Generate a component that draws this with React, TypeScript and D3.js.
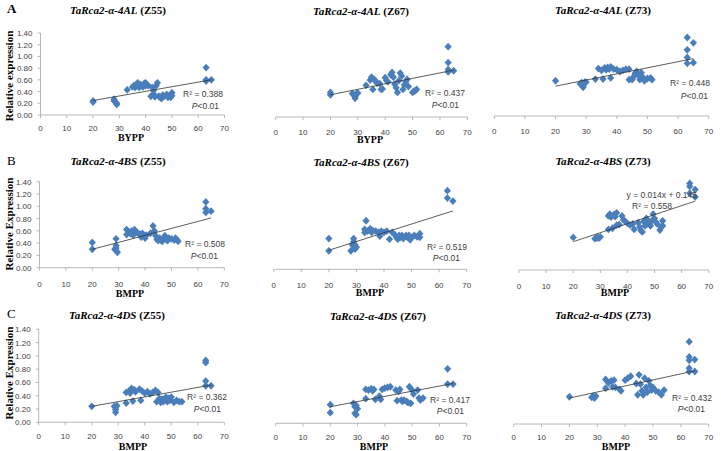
import React from "react";
import * as d3 from "d3";

type Pt = [number, number];

// ---------- DATA ----------
const xTicks = [0, 10, 20, 30, 40, 50, 60, 70];
const yTicks = [0, 0.2, 0.4, 0.6, 0.8, 1.0, 1.2, 1.4];

const genes = ["TaRca2-α-4AL", "TaRca2-α-4BS", "TaRca2-α-4DS"];
const stages = ["(Z55)", "(Z67)", "(Z73)"];
const rowLetters = ["A", "B", "C"];
const yTitles = ["Relative expression", "Relative Expression", "Relative Expression"];
const xTitles = ["BYPP", "BMPP", "BMPP"];

const r2Labels = ["0.388", "0.437", "0.448", "0.508", "0.519", "0.558", "0.362", "0.417", "0.432"];
const trendSlope = [0.00787, 0.00933, 0.01044, 0.01133, 0.01422, 0.01467, 0.00711, 0.00778, 0.00911];
const trendIntercept = [0.089, 0.193, 0.301, 0.073, 0.026, 0.167, 0.098, 0.094, 0.208];
const equationB73 = "y = 0.014x + 0.145";

const ptsA55: Pt[] = [[20,0.24],[20,0.22],[28,0.27],[28,0.24],[28.5,0.22],[29,0.18],[29,0.2],[33,0.43],[35,0.48],[35.5,0.5],[36,0.47],[36.5,0.52],[37,0.55],[37,0.5],[37.5,0.47],[38,0.52],[38.5,0.5],[39,0.48],[39.5,0.54],[40,0.55],[40,0.5],[40.5,0.52],[41,0.5],[42,0.32],[42.5,0.47],[43,0.42],[43,0.36],[43.5,0.31],[44,0.5],[44.5,0.55],[45,0.32],[45.5,0.3],[46,0.28],[46.5,0.34],[47,0.32],[48,0.35],[48.5,0.3],[49,0.33],[49.5,0.3],[50,0.38],[50,0.33],[63,0.81],[63,0.6],[63,0.58],[65,0.6]];
const ptsA67: Pt[] = [[20,0.42],[20,0.38],[28,0.40],[28.5,0.38],[29,0.35],[29,0.32],[29.5,0.40],[30,0.41],[33,0.54],[34.5,0.63],[35,0.68],[35.5,0.47],[36,0.64],[36.5,0.61],[37,0.58],[38,0.57],[38.5,0.47],[39,0.48],[40,0.67],[40.5,0.62],[41,0.60],[42,0.72],[42.5,0.76],[43,0.68],[43.5,0.56],[44,0.50],[44.5,0.42],[45,0.62],[45.5,0.75],[46,0.70],[46.5,0.47],[47,0.55],[47.5,0.60],[48,0.64],[48.5,0.52],[50,0.42],[50.5,0.44],[51,0.45],[51.5,0.47],[63,1.20],[63,0.93],[63,0.81],[63,0.77],[65,0.79]];
const ptsA73: Pt[] = [[20,0.60],[28,0.55],[28.5,0.57],[29,0.49],[29,0.52],[29.5,0.58],[30,0.58],[33,0.63],[34,0.81],[35,0.78],[35.5,0.63],[36,0.82],[36.5,0.79],[37,0.83],[37.5,0.80],[38,0.84],[38,0.65],[39,0.80],[40,0.79],[41,0.76],[42,0.78],[43,0.80],[44,0.62],[44,0.80],[45,0.62],[45.5,0.67],[46,0.73],[46.5,0.76],[47,0.70],[47.5,0.62],[48,0.74],[48.5,0.66],[49,0.60],[50,0.64],[51,0.65],[51.5,0.62],[63,1.34],[63,1.13],[63,1.00],[63,0.90],[65,1.25],[65,0.91]];
const ptsB55: Pt[] = [[20,0.41],[20,0.30],[28.5,0.30],[29,0.47],[29,0.36],[29,0.32],[29,0.28],[29.5,0.25],[33,0.62],[33,0.54],[34,0.58],[34.5,0.55],[35,0.60],[35.5,0.53],[36,0.62],[36.5,0.58],[37,0.57],[38,0.55],[38.5,0.50],[39,0.56],[40,0.48],[40.5,0.53],[42,0.56],[43,0.68],[43.5,0.60],[44,0.52],[44.5,0.46],[45,0.44],[45.5,0.48],[46,0.45],[46.5,0.43],[47,0.47],[47.5,0.52],[48,0.46],[48.5,0.44],[49,0.48],[50,0.47],[51,0.45],[51.5,0.48],[52,0.46],[52.5,0.43],[63,1.07],[63,0.96],[63,0.90],[65,0.92]];
const ptsB67: Pt[] = [[20,0.50],[20,0.30],[28,0.30],[28.5,0.40],[29,0.50],[29,0.45],[29.5,0.40],[29.5,0.33],[30,0.36],[33,0.60],[33,0.65],[33.5,0.79],[34,0.62],[35,0.66],[35.5,0.60],[36,0.63],[37,0.62],[38,0.60],[38.5,0.54],[39,0.62],[40,0.60],[41,0.62],[42,0.49],[43,0.60],[44,0.56],[44.5,0.52],[45,0.49],[45.5,0.55],[46,0.52],[46.5,0.55],[47,0.50],[48,0.55],[48.5,0.52],[49,0.55],[49.5,0.48],[50,0.52],[51,0.55],[52,0.53],[53,0.58],[53,0.52],[63,1.28],[63,1.16],[65,1.11]];
const ptsB73: Pt[] = [[20,0.53],[28,0.51],[28.5,0.52],[29,0.53],[29.5,0.52],[30,0.54],[33,0.88],[33,0.66],[33.5,0.91],[34,0.86],[34.5,0.68],[35,0.90],[35.5,0.87],[36,0.93],[36,0.73],[37,0.74],[38,0.88],[38.5,0.82],[39,0.80],[40,0.76],[41,0.73],[42,0.75],[42.5,0.66],[44,0.77],[44.5,0.70],[45,0.64],[45.5,0.62],[46,0.79],[46.5,0.72],[47,0.84],[47.5,0.75],[48,0.78],[48.5,0.72],[49,0.80],[49.5,0.91],[50,0.84],[50.5,0.78],[51,0.75],[52,0.65],[52.5,0.70],[53,0.80],[53,0.72],[63,1.41],[63,1.36],[63,1.25],[65,1.31],[65,1.19]];
const ptsC55: Pt[] = [[20,0.24],[28.5,0.24],[29,0.22],[29,0.19],[29,0.15],[29.5,0.25],[33,0.29],[33,0.45],[34,0.47],[34.5,0.44],[35,0.51],[35.5,0.32],[36,0.49],[36.5,0.46],[38,0.50],[38.5,0.33],[39,0.47],[40,0.44],[41,0.46],[42,0.43],[43,0.45],[44,0.48],[44.5,0.31],[45,0.45],[45.5,0.36],[46,0.30],[46.5,0.35],[47,0.31],[48,0.38],[48.5,0.31],[49,0.36],[49.5,0.33],[50,0.38],[51,0.30],[52,0.33],[53,0.31],[54,0.31],[63,0.93],[63,0.90],[63,0.62],[63,0.55],[65,0.55]];
const ptsC67: Pt[] = [[20,0.28],[20,0.16],[28.5,0.30],[29,0.25],[29,0.15],[29.5,0.13],[29.5,0.27],[30,0.22],[33,0.51],[33,0.37],[34,0.50],[35,0.52],[35.5,0.49],[36,0.51],[36.5,0.36],[38,0.41],[38.5,0.36],[39,0.51],[40,0.53],[41,0.54],[42,0.55],[44,0.50],[44.5,0.34],[45,0.48],[45.5,0.51],[46,0.35],[46.5,0.33],[47,0.35],[48,0.33],[48.5,0.31],[49,0.55],[49.5,0.30],[50,0.50],[50.5,0.44],[52,0.50],[52.5,0.38],[53,0.35],[54,0.38],[63,0.82],[63,0.59],[65,0.59]];
const ptsC73: Pt[] = [[20,0.41],[28,0.40],[28.5,0.42],[29,0.39],[29.5,0.42],[33,0.67],[33,0.54],[34,0.62],[35,0.65],[35.5,0.56],[36,0.66],[36.5,0.55],[38,0.52],[38.5,0.50],[40,0.66],[41,0.69],[42,0.72],[44,0.61],[44.5,0.44],[45,0.74],[45.5,0.60],[46,0.50],[46.5,0.44],[47,0.69],[47.5,0.55],[48,0.48],[48.5,0.65],[49,0.58],[49.5,0.51],[50,0.55],[51,0.50],[52,0.48],[53,0.44],[54,0.51],[63,1.24],[63,1.01],[63,0.96],[63,0.84],[63,0.79],[65,0.97],[65,0.79]];

const allPts = [ptsA55, ptsA67, ptsA73, ptsB55, ptsB67, ptsB73, ptsC55, ptsC67, ptsC73];

// ---------- LAYOUT ----------
interface Layout {
  x0: number; x1: number; axisY: number; ppu: number; tickOff: number;
  titleX: number; titleY: number;
  xLabX: number | null; xLabY: number;
  r2X: number; r2Y: number; pX: number | null; pY: number;
}
const layouts: Layout[] = [
  { x0: 40.5, x1: 224.5, axisY: 115, ppu: 58.57, tickOff: 16.3, titleX: 118, titleY: 14, xLabX: 131, xLabY: 141, r2X: 223, r2Y: 97, pX: 219, pY: 109 },
  { x0: 275.7, x1: 467.3, axisY: 117, ppu: 58.57, tickOff: 17.5, titleX: 361, titleY: 15, xLabX: 370, xLabY: 143, r2X: 465, r2Y: 96, pX: 459, pY: 108 },
  { x0: 494.3, x1: 708.7, axisY: 116, ppu: 58.57, tickOff: 18, titleX: 603, titleY: 14, xLabX: null, xLabY: 0, r2X: 710, r2Y: 86, pX: 708, pY: 99 },
  { x0: 39.5, x1: 224.3, axisY: 267.7, ppu: 61.43, tickOff: 19.5, titleX: 118, titleY: 165, xLabX: 130, xLabY: 297, r2X: 225, r2Y: 247, pX: 218, pY: 259 },
  { x0: 273.7, x1: 466.7, axisY: 269.3, ppu: 61.43, tickOff: 19, titleX: 361, titleY: 166, xLabX: 370, xLabY: 296, r2X: 467, r2Y: 250, pX: 460, pY: 261 },
  { x0: 519, x1: 708.7, axisY: 270, ppu: 61.43, tickOff: 18.7, titleX: 603, titleY: 165, xLabX: 615, xLabY: 296, r2X: 672, r2Y: 209, pX: null, pY: 0 },
  { x0: 38.7, x1: 224.3, axisY: 422.3, ppu: 66.43, tickOff: 16.6, titleX: 117, titleY: 319, xLabX: 133, xLabY: 449.5, r2X: 227, r2Y: 400, pX: 221, pY: 412 },
  { x0: 275.7, x1: 466.7, axisY: 423.3, ppu: 66.43, tickOff: 16.3, titleX: 378, titleY: 320, xLabX: 374, xLabY: 449.5, r2X: 470, r2Y: 403, pX: 464, pY: 414 },
  { x0: 513.7, x1: 708.7, axisY: 424, ppu: 66.43, tickOff: 15.8, titleX: 603, titleY: 319, xLabX: 616, xLabY: 449.5, r2X: 712, r2Y: 401, pX: 705, pY: 412 },
];
const letterPos = [{ x: 7, y: 12.5, w: "bold" }, { x: 7, y: 165, w: "normal" }, { x: 7, y: 318, w: "normal" }];
const yTitlePos = [{ x: 12.5, y: 76 }, { x: 12.5, y: 224 }, { x: 12.5, y: 373 }];

const MARK = "#4A7EBB";
const AXIS = "#A6A6A6";
const TICKTXT = "#404040";
const SANS = "'Liberation Sans', Arial, sans-serif";
const SERIF = "'Liberation Serif', 'Times New Roman', serif";
const diamond = "M0,-3.9L3.6,0L0,3.9L-3.6,0Z";

function Panel({ i }: { i: number }) {
  const L = layouts[i];
  const row = Math.floor(i / 3);
  const col = i % 3;
  const x = d3.scaleLinear().domain([0, 70]).range([L.x0, L.x1]);
  const y = d3.scaleLinear().domain([0, 1.4]).range([L.axisY, L.axisY - 1.4 * L.ppu]);
  const pts = allPts[i];
  const xmin = d3.min(pts, (d) => d[0]) as number;
  const xmax = d3.max(pts, (d) => d[0]) as number;
  const line = d3.line<number>().x((v) => x(v)).y((v) => y(trendSlope[i] * v + trendIntercept[i]));
  return (
    <g>
      <text x={L.titleX} y={L.titleY} textAnchor="middle" fontFamily={SERIF} fontSize={11} fontWeight="bold" fill="#000">
        <tspan fontStyle="italic">{genes[row]}</tspan>
        <tspan> {stages[col]}</tspan>
      </text>
      <line x1={L.x0} x2={L.x1} y1={L.axisY} y2={L.axisY} stroke={AXIS} strokeWidth={0.8} />
      {xTicks.map((t) => (
        <line key={t} x1={x(t)} x2={x(t)} y1={L.axisY} y2={L.axisY + 3} stroke={AXIS} strokeWidth={0.8} />
      ))}
      {col === 0 && (
        <g>
          <line x1={L.x0} x2={L.x0} y1={L.axisY} y2={y(1.4)} stroke={AXIS} strokeWidth={0.8} />
          {yTicks.map((t) => (
            <g key={t}>
              <line x1={L.x0 - 3} x2={L.x0} y1={y(t)} y2={y(t)} stroke={AXIS} strokeWidth={0.8} />
              <text x={L.x0 - 8} y={y(t) + 3} textAnchor="end" fontFamily={SANS} fontSize={8} fill={TICKTXT}>
                {t.toFixed(2)}
              </text>
            </g>
          ))}
        </g>
      )}
      {L.xLabX !== null && (
        <text x={L.xLabX} y={L.xLabY} textAnchor="middle" fontFamily={SERIF} fontSize={10} fontWeight="bold" fill="#000">
          {xTitles[row]}
        </text>
      )}
      {xTicks.map((t) => (
        <text key={"l" + t} x={x(t)} y={L.axisY + L.tickOff} textAnchor="middle" fontFamily={SANS} fontSize={8} fill={TICKTXT}>
          {t}
        </text>
      ))}
      {pts.map((d, k) => (
        <path key={k} d={diamond} transform={`translate(${x(d[0])},${y(d[1])})`} fill={MARK} />
      ))}
      <path d={line([xmin, xmax]) || ""} stroke="#333" strokeWidth={0.8} fill="none" />
      {i === 5 && (
        <text x={697} y={198} textAnchor="end" fontFamily={SANS} fontSize={8.5} fill={TICKTXT}>
          {equationB73}
        </text>
      )}
      <text x={L.r2X} y={L.r2Y} textAnchor="end" fontFamily={SANS} fontSize={8.5} fill={TICKTXT}>
        R² = {r2Labels[i]}
      </text>
      {L.pX !== null && (
        <text x={L.pX} y={L.pY} textAnchor="end" fontFamily={SANS} fontSize={8.5} fill={TICKTXT}>
          <tspan fontStyle="italic">P</tspan>&lt;0.01
        </text>
      )}
    </g>
  );
}

export default function App() {
  return (
    <svg width={721} height={451} style={{ position: "absolute", left: 0, top: 0, background: "#fff" }}>
      <rect x={0} y={0} width={721} height={451} fill="#fff" />
      {layouts.map((_, i) => (
        <Panel key={i} i={i} />
      ))}
      {rowLetters.map((l, r) => (
        <text key={l} x={letterPos[r].x} y={letterPos[r].y} fontFamily={SERIF} fontSize={13} fontWeight={letterPos[r].w} fill="#000">
          {l}
        </text>
      ))}
      {yTitles.map((t, r) => (
        <text key={r} transform={`translate(${yTitlePos[r].x},${yTitlePos[r].y}) rotate(-90)`} textAnchor="middle" fontFamily={SERIF} fontSize={11} fontWeight="bold" fill="#000">
          {t}
        </text>
      ))}
    </svg>
  );
}
